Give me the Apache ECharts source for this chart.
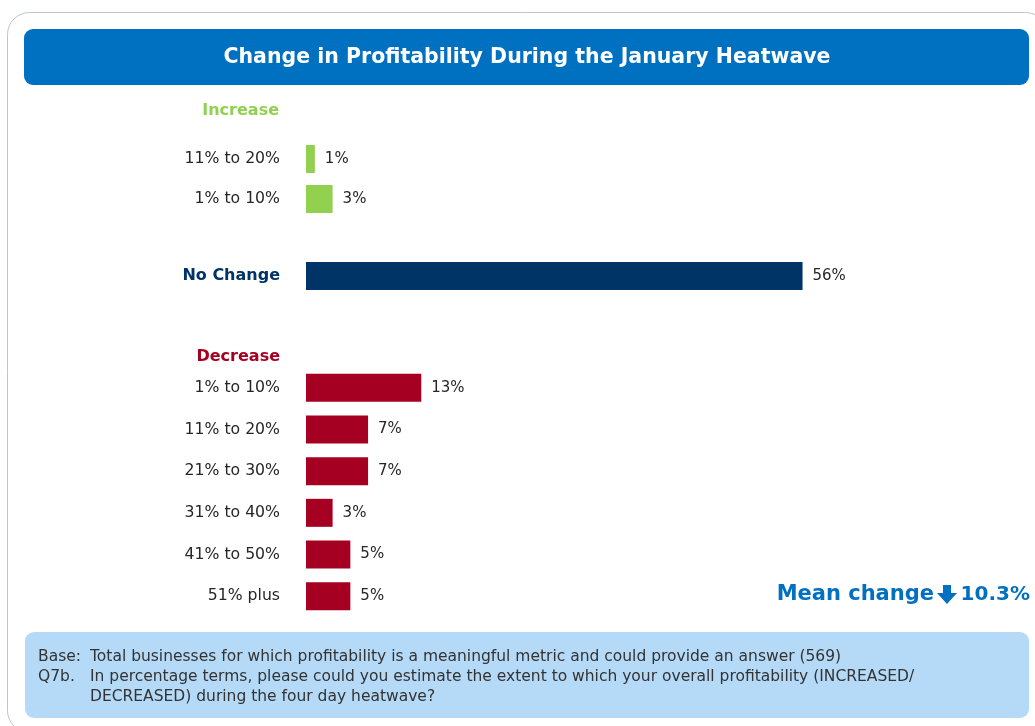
<!DOCTYPE html>
<html>
<head>
<meta charset="utf-8">
<script src="https://cdn.jsdelivr.net/npm/echarts@6/dist/echarts.min.js"></script>
<style>
html,body{margin:0;padding:0;background:#fff;}
#chart{width:1035px;height:726px;}
</style>
</head>
<body>
<div id="chart"></div>
<script>
var titleText = 'Change in Profitability During the January Heatwave';
var increaseCats = ['11% to 20%', '1% to 10%'];
var increaseVals = [1, 3];
var noChangeCats = ['No Change'];
var noChangeVals = [56];
var decreaseCats = ['1% to 10%', '11% to 20%', '21% to 30%', '31% to 40%', '41% to 50%', '51% plus'];
var decreaseVals = [13, 7, 7, 3, 5, 5];
var meanLabel = 'Mean change';
var meanValue = '10.3%';
var baseLine = 'Total businesses for which profitability is a meaningful metric and could provide an answer (569)';
var qLines = ['In percentage terms, please could you estimate the extent to which your overall profitability (INCREASED/', 'DECREASED) during the four day heatwave?'];

var FONT = '"DejaVu Sans", sans-serif';
var chart = echarts.init(document.getElementById('chart'));

function xAx(i){ return {gridIndex:i, type:'value', min:0, max:60, show:false}; }
function yAx(i, cats, style){
  return {gridIndex:i, type:'category', data:cats, inverse:true,
    axisLine:{show:false}, axisTick:{show:false}, splitLine:{show:false},
    axisLabel:Object.assign({margin:26, fontFamily:FONT, fontSize:15.7, color:'#262626'}, style||{})};
}
function ser(i, vals, color){
  return {type:'bar', xAxisIndex:i, yAxisIndex:i, data:vals, barWidth:28,
    itemStyle:{color:color}, silent:true,
    label:{show:true, position:'right', distance:10, formatter:'{c}%', fontFamily:FONT, fontSize:15, color:'#262626'}};
}

chart.setOption({
  animation:false,
  grid:[
    {left:306, width:532, top:139, height:80},
    {left:306, width:532, top:256, height:40},
    {left:306, width:532, top:367, height:250}
  ],
  xAxis:[xAx(0), xAx(1), xAx(2)],
  yAxis:[
    yAx(0, increaseCats),
    yAx(1, noChangeCats, {fontWeight:'bold', color:'#003366', fontSize:16}),
    yAx(2, decreaseCats)
  ],
  series:[
    ser(0, increaseVals, '#92D050'),
    ser(1, noChangeVals, '#003366'),
    ser(2, decreaseVals, '#A50021')
  ],
  graphic:[
    {type:'rect', z:-10, shape:{x:7.5, y:12.5, width:1040, height:720, r:22}, style:{fill:'#fff', stroke:'#BFC4C9', lineWidth:1}},
    {type:'rect', shape:{x:24, y:29, width:1005, height:56, r:9}, style:{fill:'#0070C0'}},
    {type:'text', x:527, y:58, style:{text:titleText, fill:'#fff', font:'bold 20.5px '+FONT, align:'center', verticalAlign:'middle'}},
    {type:'text', x:279, y:111, style:{text:'Increase', fill:'#92D050', font:'bold 16px '+FONT, align:'right', verticalAlign:'middle'}},
    {type:'text', x:280, y:357, style:{text:'Decrease', fill:'#A50021', font:'bold 16px '+FONT, align:'right', verticalAlign:'middle'}},
    {type:'text', x:934, y:595, style:{text:meanLabel, fill:'#0070C0', font:'bold 21px '+FONT, align:'right', verticalAlign:'middle'}},
    {type:'polygon', shape:{points:[[943,585],[951,585],[951,593],[957,593],[947,604],[937,593],[943,593]]}, style:{fill:'#0070C0'}},
    {type:'text', x:1030, y:595, style:{text:meanValue, fill:'#0070C0', font:'bold 20px '+FONT, align:'right', verticalAlign:'middle'}},
    {type:'rect', shape:{x:25, y:632, width:1004, height:86, r:9}, style:{fill:'#B4DAF7'}},
    {type:'text', x:38, y:657, style:{text:'Base:', fill:'#333', font:'15.5px '+FONT, verticalAlign:'middle'}},
    {type:'text', x:90, y:657, style:{text:baseLine, fill:'#333', font:'15.5px '+FONT, verticalAlign:'middle'}},
    {type:'text', x:38, y:677, style:{text:'Q7b.', fill:'#333', font:'15.5px '+FONT, verticalAlign:'middle'}},
    {type:'text', x:90, y:677, style:{text:qLines[0], fill:'#333', font:'15.5px '+FONT, verticalAlign:'middle'}},
    {type:'text', x:90, y:697, style:{text:qLines[1], fill:'#333', font:'15.5px '+FONT, verticalAlign:'middle'}}
  ]
});
</script>
</body>
</html>
